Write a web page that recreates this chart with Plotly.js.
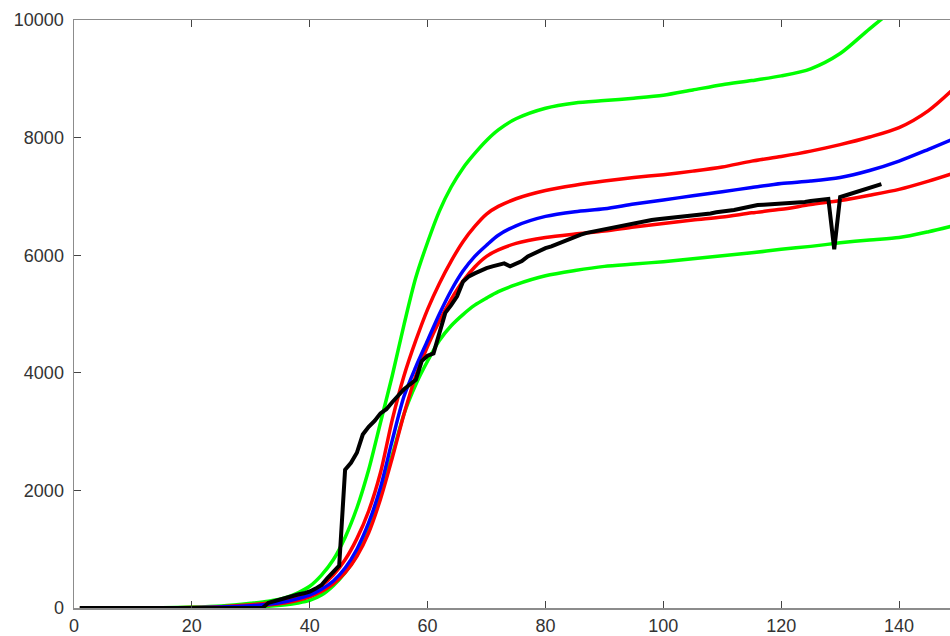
<!DOCTYPE html>
<html>
<head>
<meta charset="utf-8">
<script src="https://cdn.plot.ly/plotly-3.0.1.min.js"></script>
<style>
  html, body { margin: 0; padding: 0; overflow: hidden; background: #fff; }
  #chart { width: 960px; height: 636px; }
</style>
</head>
<body>
<div id="chart"></div>
<script>
// Model curve grid (days)
const modelDays = [1, 5, 10, 15, 20, 25, 30, 33, 36, 38, 40, 42, 44, 46, 48, 50, 52, 54, 56, 58, 60, 62, 64, 66, 68, 70, 72, 75, 80, 85, 90, 95, 100, 105, 110, 115, 120, 125, 130, 135, 140, 145, 150];

// Upper green bound
const greenHigh = [0, 0, 2, 6, 15, 35, 80, 115, 180, 260, 370, 560, 820, 1200, 1700, 2350, 3150, 3950, 4820, 5620, 6220, 6750, 7160, 7480, 7730, 7950, 8130, 8320, 8500, 8590, 8630, 8670, 8720, 8810, 8900, 8970, 9050, 9170, 9430, 9850, 10250, 10600, 10900];
// Upper red bound
const redHigh = [0, 0, 1, 3, 8, 22, 55, 85, 140, 195, 260, 380, 560, 820, 1180, 1650, 2300, 3200, 3950, 4550, 5080, 5520, 5900, 6230, 6490, 6700, 6830, 6960, 7100, 7190, 7260, 7320, 7370, 7430, 7500, 7600, 7680, 7770, 7880, 8010, 8170, 8460, 8900];
// Central blue curve
const blueMid = [0, 0, 0, 2, 5, 15, 40, 65, 110, 160, 220, 320, 460, 680, 1000, 1450, 2050, 2850, 3600, 4100, 4550, 5000, 5400, 5730, 5980, 6170, 6340, 6500, 6660, 6740, 6790, 6870, 6940, 7010, 7080, 7150, 7220, 7260, 7320, 7440, 7600, 7800, 8010];
// Lower red bound
const redLow = [0, 0, 0, 1, 3, 10, 30, 50, 90, 130, 190, 280, 410, 600, 880, 1280, 1850, 2550, 3300, 3950, 4450, 4880, 5250, 5560, 5800, 5980, 6090, 6200, 6300, 6360, 6410, 6480, 6540, 6600, 6650, 6720, 6780, 6860, 6930, 7020, 7120, 7260, 7420];
// Lower green bound
const greenLow = [0, 0, 0, 1, 2, 6, 18, 30, 55, 85, 130, 220, 380, 600, 900, 1380, 1950, 2600, 3300, 3800, 4200, 4550, 4800, 4990, 5150, 5270, 5380, 5500, 5650, 5740, 5810, 5850, 5890, 5940, 5990, 6040, 6100, 6150, 6210, 6260, 6300, 6400, 6520];

// Observed cumulative values, day 1 .. 137
const observed = [
  0, 0, 0, 0, 0, 0, 0, 0, 0, 0,
  0, 0, 0, 0, 0, 0, 0, 0, 0, 0,
  0, 0, 0, 0, 0, 0, 0, 0, 0, 0,
  0, 0, 90, 120, 140, 170, 215, 230, 250, 280,
  330, 390, 510, 620, 720, 2350, 2470, 2640, 2950, 3080,
  3180, 3310, 3380, 3500, 3620, 3720, 3800, 3880, 4200, 4290,
  4330, 4680, 5020, 5150, 5300, 5550, 5640, 5690, 5740, 5780,
  5810, 5840, 5860, 5810, 5850, 5900, 5980, 6030, 6080, 6120,
  6150, 6190, 6230, 6280, 6320, 6350, 6380, 6400, 6420, 6440,
  6470, 6490, 6510, 6530, 6550, 6570, 6590, 6600, 6610, 6620,
  6630, 6640, 6650, 6670, 6680, 6690, 6700, 6710, 6730, 6740,
  6750, 6770, 6790, 6810, 6840, 6855, 6860, 6865, 6870, 6875,
  6880, 6885, 6895, 6905, 6920, 6935, 6945, 6955, 6100, 6990,
  7020, 7050, 7080, 7110, 7140, 7175, 7210
];
const observedDays = observed.map((v, i) => i + 1);

const xTicks = [0, 20, 40, 60, 80, 100, 120, 140];
const yTicks = [0, 2000, 4000, 6000, 8000, 10000];

function curve(y, color) {
  return { x: modelDays, y: y, type: 'scatter', mode: 'lines',
           line: { color: color, width: 3.5, shape: 'spline', smoothing: 0.8 },
           hoverinfo: 'skip', showlegend: false };
}

const traces = [
  curve(greenHigh, '#00ff00'),
  curve(greenLow, '#00ff00'),
  curve(redHigh, '#ff0000'),
  curve(redLow, '#ff0000'),
  curve(blueMid, '#0000ff'),
  { x: observedDays, y: observed, type: 'scatter', mode: 'lines',
    line: { color: '#000000', width: 4 }, hoverinfo: 'skip', showlegend: false }
];

const axisCommon = {
  showgrid: false, zeroline: false,
  showline: true, linecolor: '#8c8c8c', linewidth: 1.5, mirror: 'ticks',
  ticks: 'inside', ticklen: 7, tickwidth: 1, tickcolor: '#444',
  tickfont: { family: 'Liberation Sans, Arial, sans-serif', size: 18, color: '#333' }
};

const layout = {
  width: 960, height: 636,
  margin: { l: 74, r: 2, t: 20, b: 28 },
  paper_bgcolor: '#ffffff', plot_bgcolor: '#ffffff',
  showlegend: false,
  xaxis: Object.assign({}, axisCommon, { range: [0, 150], tickvals: xTicks, ticktext: xTicks.map(String), ticklabelstandoff: 1 }),
  yaxis: Object.assign({}, axisCommon, { range: [0, 10000], tickvals: yTicks, ticktext: yTicks.map(String), ticklabelstandoff: 5 })
};

Plotly.newPlot('chart', traces, layout, { staticPlot: true, displayModeBar: false });
</script>
</body>
</html>
